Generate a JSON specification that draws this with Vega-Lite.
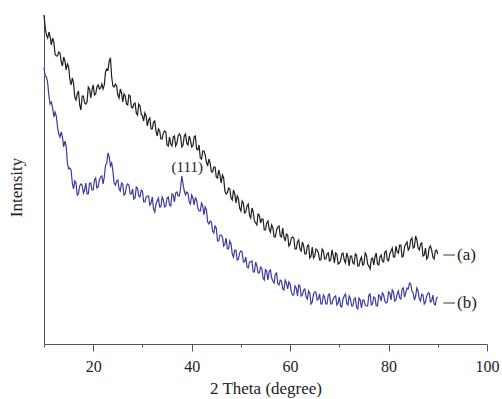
{
  "$schema": "https://vega.github.io/schema/vega-lite/v6.json",
  "width": 443,
  "height": 329,
  "autosize": "none",
  "padding": {"left": 44, "top": 15, "right": 15, "bottom": 55},
  "background": "white",
  "config": {
    "view": {"stroke": null},
    "font": "Liberation Serif",
    "axis": {"grid": false, "domainColor": "#555", "tickColor": "#555", "labelColor": "#222", "titleColor": "#222", "labelFont": "Liberation Serif", "titleFont": "Liberation Serif", "titleFontWeight": "normal", "labelFontSize": 16, "titleFontSize": 17}
  },
  "datasets": {
    "xrd": [
      {"t":10,"a":329,"b":276},{"t":10.5,"a":309,"b":267},{"t":11,"a":312,"b":248},{"t":11.5,"a":299,"b":242},{"t":12,"a":302,"b":227},{"t":12.5,"a":288,"b":228},{"t":13,"a":292,"b":210},{"t":13.5,"a":282,"b":212},{"t":14,"a":287,"b":197},{"t":14.5,"a":274,"b":198},
      {"t":15,"a":277,"b":175},{"t":15.5,"a":259,"b":174},{"t":16,"a":261,"b":155},{"t":16.5,"a":244,"b":161},{"t":17,"a":253,"b":150},{"t":17.5,"a":234,"b":160},{"t":18,"a":248,"b":151},{"t":18.5,"a":240,"b":161},{"t":19,"a":257,"b":150},{"t":19.5,"a":246,"b":161},
      {"t":20,"a":259,"b":154},{"t":20.5,"a":250,"b":166},{"t":21,"a":259,"b":157},{"t":21.5,"a":256,"b":167},{"t":22,"a":255,"b":160},{"t":22.5,"a":272,"b":179},{"t":23,"a":274,"b":191},{"t":23.5,"a":286,"b":178},{"t":24,"a":258,"b":173},{"t":24.5,"a":260,"b":159},
      {"t":25,"a":249,"b":164},{"t":25.5,"a":255,"b":153},{"t":26,"a":242,"b":160},{"t":26.5,"a":248,"b":150},{"t":27,"a":239,"b":160},{"t":27.5,"a":248,"b":150},{"t":28,"a":236,"b":155},{"t":28.5,"a":241,"b":146},{"t":29,"a":229,"b":156},{"t":29.5,"a":238,"b":147},
      {"t":30,"a":228,"b":153},{"t":30.5,"a":231,"b":142},{"t":31,"a":218,"b":148},{"t":31.5,"a":226,"b":139},{"t":32,"a":215,"b":147},{"t":32.5,"a":223,"b":132},{"t":33,"a":208,"b":143},{"t":33.5,"a":213,"b":137},{"t":34,"a":205,"b":147},{"t":34.5,"a":213,"b":137},
      {"t":35,"a":199,"b":146},{"t":35.5,"a":207,"b":139},{"t":36,"a":198,"b":150},{"t":36.5,"a":208,"b":142},{"t":37,"a":201,"b":152},{"t":37.5,"a":210,"b":148},{"t":38,"a":197,"b":168},{"t":38.5,"a":208,"b":153},{"t":39,"a":201,"b":152},{"t":39.5,"a":208,"b":142},
      {"t":40,"a":197,"b":149},{"t":40.5,"a":207,"b":139},{"t":41,"a":195,"b":144},{"t":41.5,"a":199,"b":133},{"t":42,"a":185,"b":141},{"t":42.5,"a":193,"b":129},{"t":43,"a":182,"b":134},{"t":43.5,"a":185,"b":120},{"t":44,"a":172,"b":122},{"t":44.5,"a":177,"b":111},
      {"t":45,"a":167,"b":116},{"t":45.5,"a":174,"b":103},{"t":46,"a":161,"b":109},{"t":46.5,"a":166,"b":98},{"t":47,"a":150,"b":106},{"t":47.5,"a":156,"b":95},{"t":48,"a":146,"b":100},{"t":48.5,"a":154,"b":87},{"t":49,"a":141,"b":94},{"t":49.5,"a":145,"b":85},
      {"t":50,"a":133,"b":93},{"t":50.5,"a":141,"b":82},{"t":51,"a":132,"b":87},{"t":51.5,"a":140,"b":76},{"t":52,"a":126,"b":82},{"t":52.5,"a":132,"b":72},{"t":53,"a":121,"b":82},{"t":53.5,"a":130,"b":71},{"t":54,"a":121,"b":77},{"t":54.5,"a":125,"b":66},
      {"t":55,"a":114,"b":75},{"t":55.5,"a":123,"b":64},{"t":56,"a":112,"b":74},{"t":56.5,"a":116,"b":63},{"t":57,"a":107,"b":70},{"t":57.5,"a":117,"b":60},{"t":58,"a":108,"b":64},{"t":58.5,"a":116,"b":55},{"t":59,"a":103,"b":64},{"t":59.5,"a":109,"b":55},
      {"t":60,"a":100,"b":60},{"t":60.5,"a":107,"b":49},{"t":61,"a":95,"b":58},{"t":61.5,"a":102,"b":48},{"t":62,"a":95,"b":58},{"t":62.5,"a":102,"b":49},{"t":63,"a":90,"b":55},{"t":63.5,"a":98,"b":45},{"t":64,"a":86,"b":51},{"t":64.5,"a":97,"b":42},
      {"t":65,"a":88,"b":52},{"t":65.5,"a":94,"b":44},{"t":66,"a":84,"b":50},{"t":66.5,"a":95,"b":40},{"t":67,"a":85,"b":47},{"t":67.5,"a":90,"b":40},{"t":68,"a":83,"b":50},{"t":68.5,"a":94,"b":40},{"t":69,"a":81,"b":47},{"t":69.5,"a":90,"b":39},
      {"t":70,"a":81,"b":47},{"t":70.5,"a":90,"b":37},{"t":71,"a":84,"b":48},{"t":71.5,"a":91,"b":41},{"t":72,"a":78,"b":48},{"t":72.5,"a":88,"b":38},{"t":73,"a":80,"b":45},{"t":73.5,"a":89,"b":37},{"t":74,"a":78,"b":46},{"t":74.5,"a":87,"b":36},
      {"t":75,"a":80,"b":44},{"t":75.5,"a":89,"b":38},{"t":76,"a":78,"b":49},{"t":76.5,"a":85,"b":39},{"t":77,"a":79,"b":47},{"t":77.5,"a":91,"b":38},{"t":78,"a":79,"b":49},{"t":78.5,"a":89,"b":43},{"t":79,"a":82,"b":49},{"t":79.5,"a":93,"b":41},
      {"t":80,"a":83,"b":52},{"t":80.5,"a":93,"b":44},{"t":81,"a":87,"b":52},{"t":81.5,"a":98,"b":44},{"t":82,"a":91,"b":53},{"t":82.5,"a":99,"b":45},{"t":83,"a":88,"b":56},{"t":83.5,"a":100,"b":51},{"t":84,"a":94,"b":55},{"t":84.5,"a":104,"b":60},
      {"t":85,"a":96,"b":51},{"t":85.5,"a":108,"b":48},{"t":86,"a":96,"b":53},{"t":86.5,"a":100,"b":43},{"t":87,"a":88,"b":49},{"t":87.5,"a":96,"b":42},{"t":88,"a":87,"b":51},{"t":88.5,"a":98,"b":42},{"t":89,"a":87,"b":49},{"t":89.5,"a":93,"b":39},
      {"t":90,"a":90,"b":47},
      {"t":10.25,"a":316,"b":268},{"t":10.75,"a":306,"b":261},{"t":11.25,"a":307,"b":240},{"t":11.75,"a":306,"b":236},{"t":12.25,"a":290,"b":232},{"t":12.75,"a":288,"b":217},{"t":13.25,"a":291,"b":207},{"t":13.75,"a":278,"b":207},{"t":14.25,"a":283,"b":203},{"t":14.75,"a":280,"b":181},
      {"t":15.25,"a":265,"b":176},{"t":15.75,"a":266,"b":161},{"t":16.25,"a":247,"b":163},{"t":16.75,"a":250,"b":149},{"t":17.25,"a":239,"b":158},{"t":17.75,"a":248,"b":159},{"t":18.25,"a":241,"b":154},{"t":18.75,"a":242,"b":150},{"t":19.25,"a":255,"b":161},{"t":19.75,"a":254,"b":154},
      {"t":20.25,"a":249,"b":164},{"t":20.75,"a":257,"b":156},{"t":21.25,"a":255,"b":164},{"t":21.75,"a":260,"b":168},{"t":22.25,"a":259,"b":167},{"t":22.75,"a":275,"b":181},{"t":23.25,"a":283,"b":187},{"t":23.75,"a":267,"b":181},{"t":24.25,"a":257,"b":161},{"t":24.75,"a":258,"b":163},
      {"t":25.25,"a":246,"b":155},{"t":25.75,"a":251,"b":161},{"t":26.25,"a":250,"b":149},{"t":26.75,"a":240,"b":158},{"t":27.25,"a":249,"b":159},{"t":27.75,"a":237,"b":150},{"t":28.25,"a":240,"b":145},{"t":28.75,"a":231,"b":157},{"t":29.25,"a":240,"b":148},{"t":29.75,"a":230,"b":154},
      {"t":30.25,"a":223,"b":142},{"t":30.75,"a":228,"b":147},{"t":31.25,"a":224,"b":148},{"t":31.75,"a":215,"b":141},{"t":32.25,"a":222,"b":135},{"t":32.75,"a":213,"b":140},{"t":33.25,"a":215,"b":146},{"t":33.75,"a":205,"b":137},{"t":34.25,"a":211,"b":144},{"t":34.75,"a":212,"b":138},
      {"t":35.25,"a":198,"b":147},{"t":35.75,"a":200,"b":138},{"t":36.25,"a":207,"b":149},{"t":36.75,"a":198,"b":151},{"t":37.25,"a":208,"b":148},{"t":37.75,"a":208,"b":156},{"t":38.25,"a":199,"b":160},{"t":38.75,"a":210,"b":149},{"t":39.25,"a":199,"b":151},{"t":39.75,"a":204,"b":140},
      {"t":40.25,"a":198,"b":146},{"t":40.75,"a":208,"b":146},{"t":41.25,"a":194,"b":136},{"t":41.75,"a":186,"b":133},{"t":42.25,"a":193,"b":138},{"t":42.75,"a":189,"b":137},{"t":43.25,"a":178,"b":122},{"t":43.75,"a":181,"b":123},{"t":44.25,"a":172,"b":113},{"t":44.75,"a":177,"b":118},
      {"t":45.25,"a":166,"b":103},{"t":45.75,"a":169,"b":109},{"t":46.25,"a":169,"b":107},{"t":46.75,"a":153,"b":100},{"t":47.25,"a":151,"b":95},{"t":47.75,"a":155,"b":103},{"t":48.25,"a":144,"b":90},{"t":48.75,"a":150,"b":94},{"t":49.25,"a":148,"b":84},{"t":49.75,"a":136,"b":91},
      {"t":50.25,"a":143,"b":92},{"t":50.75,"a":131,"b":82},{"t":51.25,"a":138,"b":77},{"t":51.75,"a":129,"b":82},{"t":52.25,"a":136,"b":83},{"t":52.75,"a":123,"b":72},{"t":53.25,"a":119,"b":78},{"t":53.75,"a":129,"b":71},{"t":54.25,"a":125,"b":76},{"t":54.75,"a":114,"b":64},
      {"t":55.25,"a":121,"b":72},{"t":55.75,"a":115,"b":73},{"t":56.25,"a":119,"b":66},{"t":56.75,"a":107,"b":61},{"t":57.25,"a":114,"b":71},{"t":57.75,"a":118,"b":59},{"t":58.25,"a":107,"b":63},{"t":58.75,"a":107,"b":54},{"t":59.25,"a":110,"b":61},{"t":59.75,"a":98,"b":62},
      {"t":60.25,"a":106,"b":52},{"t":60.75,"a":106,"b":49},{"t":61.25,"a":95,"b":56},{"t":61.75,"a":104,"b":59},{"t":62.25,"a":93,"b":48},{"t":62.75,"a":98,"b":54},{"t":63.25,"a":90,"b":47},{"t":63.75,"a":99,"b":53},{"t":64.25,"a":88,"b":40},{"t":64.75,"a":86,"b":50},
      {"t":65.25,"a":95,"b":52},{"t":65.75,"a":91,"b":45},{"t":66.25,"a":84,"b":40},{"t":66.75,"a":93,"b":49},{"t":67.25,"a":85,"b":40},{"t":67.75,"a":91,"b":49},{"t":68.25,"a":84,"b":40},{"t":68.75,"a":89,"b":45},{"t":69.25,"a":91,"b":48},{"t":69.75,"a":80,"b":41},
      {"t":70.25,"a":83,"b":38},{"t":70.75,"a":91,"b":45},{"t":71.25,"a":81,"b":50},{"t":71.75,"a":87,"b":39},{"t":72.25,"a":88,"b":45},{"t":72.75,"a":81,"b":38},{"t":73.25,"a":90,"b":46},{"t":73.75,"a":78,"b":35},{"t":74.25,"a":84,"b":44},{"t":74.75,"a":79,"b":44},
      {"t":75.25,"a":91,"b":39},{"t":75.75,"a":80,"b":38},{"t":76.25,"a":75,"b":50},{"t":76.75,"a":86,"b":40},{"t":77.25,"a":87,"b":46},{"t":77.75,"a":80,"b":38},{"t":78.25,"a":87,"b":48},{"t":78.75,"a":83,"b":51},{"t":79.25,"a":92,"b":43},{"t":79.75,"a":84,"b":42},
      {"t":80.25,"a":90,"b":51},{"t":80.75,"a":96,"b":54},{"t":81.25,"a":87,"b":43},{"t":81.75,"a":92,"b":50},{"t":82.25,"a":99,"b":46},{"t":82.75,"a":87,"b":55},{"t":83.25,"a":97,"b":47},{"t":83.75,"a":102,"b":56},{"t":84.25,"a":96,"b":61},{"t":84.75,"a":106,"b":53},
      {"t":85.25,"a":97,"b":44},{"t":85.75,"a":104,"b":56},{"t":86.25,"a":94,"b":45},{"t":86.75,"a":101,"b":50},{"t":87.25,"a":89,"b":40},{"t":87.75,"a":85,"b":48},{"t":88.25,"a":96,"b":51},{"t":88.75,"a":94,"b":43},{"t":89.25,"a":85,"b":40},{"t":89.75,"a":94,"b":46}
    ],
    "labels": [
      {"t":91.1,"t2":93.5,"v":89,"tx":93.9,"lab":"(a)"},
      {"t":91.1,"t2":93.5,"v":41,"tx":93.9,"lab":"(b)"}
    ],
    "peak": [{"t":39.1,"v":177,"lab":"(111)"}]
  },
  "layer": [
    {
      "data": {"name": "xrd"},
      "mark": {"type": "line", "color": "#1e1e1e", "strokeWidth": 1.2},
      "encoding": {
        "x": {"field": "t", "type": "quantitative", "title": "2 Theta (degree)",
          "scale": {"domain": [10, 100], "nice": false, "zero": false},
          "axis": {"values": [10,20,30,40,50,60,70,80,90,100],
            "labelExpr": "datum.value % 20 === 0 ? datum.label : ''",
            "tickSize": {"condition": {"test": "datum.value % 20 === 0", "value": 7}, "value": 3},
            "labelFont": "Liberation Serif", "titleFont": "Liberation Serif",
            "labelPadding": 7, "titleY": 49, "titleBaseline": "alphabetic", "labelFlush": false, "labelOverlap": false}},
        "y": {"field": "a", "type": "quantitative", "title": "Intensity",
          "scale": {"domain": [0, 329], "nice": false},
          "axis": {"ticks": false, "labels": false, "titleFont": "Liberation Serif", "titleX": -23, "titleY": 172, "titleBaseline": "alphabetic", "titleAlign": "center"}}
      }
    },
    {
      "data": {"name": "xrd"},
      "mark": {"type": "line", "color": "#3a3a9e", "strokeWidth": 1.2},
      "encoding": {
        "x": {"field": "t", "type": "quantitative", "title": "2 Theta (degree)"},
        "y": {"field": "b", "type": "quantitative", "title": "Intensity"}
      }
    },
    {
      "data": {"name": "labels"},
      "mark": {"type": "rule", "color": "#333", "strokeWidth": 1},
      "encoding": {
        "x": {"field": "t", "type": "quantitative", "title": "2 Theta (degree)"},
        "x2": {"field": "t2"},
        "y": {"field": "v", "type": "quantitative", "title": "Intensity"}
      }
    },
    {
      "data": {"name": "labels"},
      "mark": {"type": "text", "align": "left", "baseline": "middle", "fontSize": 17, "font": "Liberation Serif", "color": "#222"},
      "encoding": {
        "x": {"field": "tx", "type": "quantitative", "title": "2 Theta (degree)"},
        "y": {"field": "v", "type": "quantitative", "title": "Intensity"},
        "text": {"field": "lab"}
      }
    },
    {
      "data": {"name": "peak"},
      "mark": {"type": "text", "align": "center", "baseline": "middle", "fontSize": 15, "font": "Liberation Serif", "color": "#222"},
      "encoding": {
        "x": {"field": "t", "type": "quantitative", "title": "2 Theta (degree)"},
        "y": {"field": "v", "type": "quantitative", "title": "Intensity"},
        "text": {"field": "lab"}
      }
    }
  ]
}
